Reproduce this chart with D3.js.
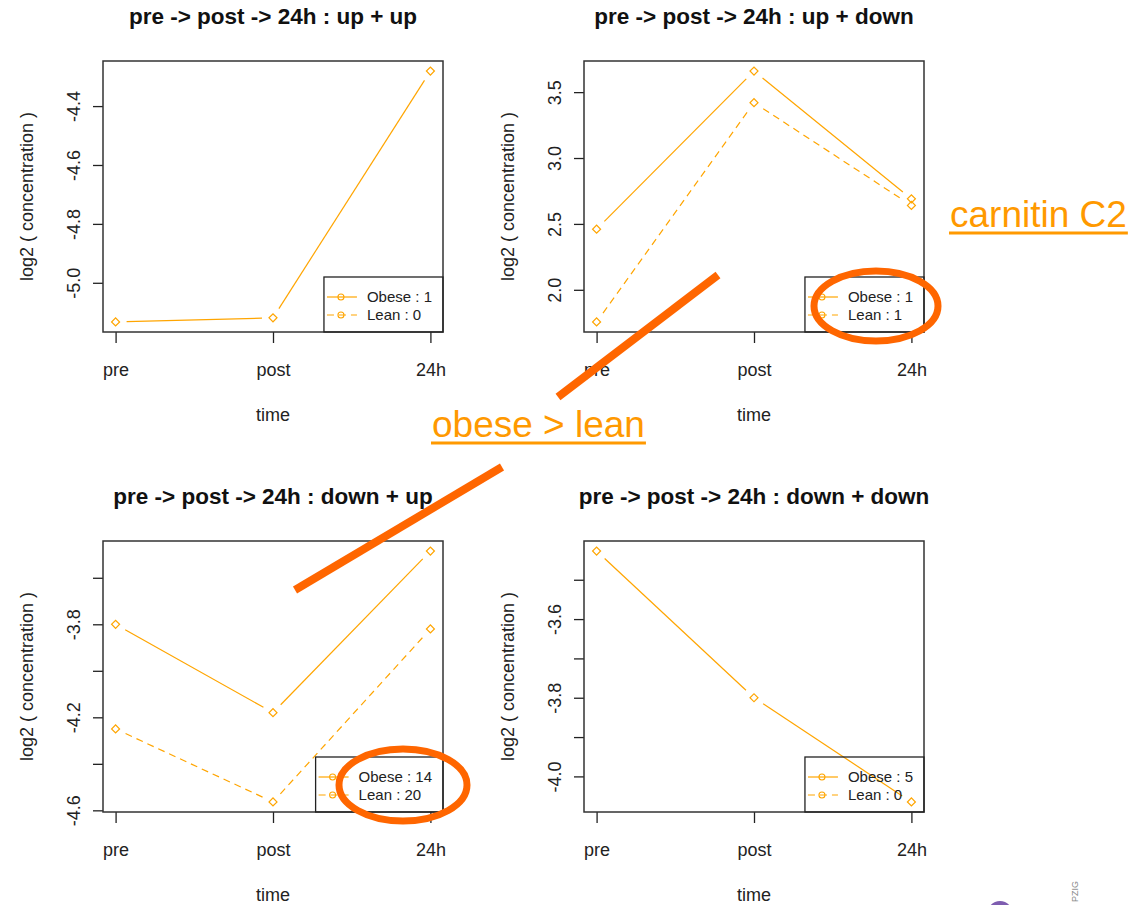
<!DOCTYPE html>
<html>
<head>
<meta charset="utf-8">
<script src="https://cdn.jsdelivr.net/npm/d3@7"></script>
<style>
  body { margin: 0; background: #fff; }
  svg { display: block; font-family: "Liberation Sans", Arial, sans-serif; }
</style>
</head>
<body>
<svg id="chart" width="1131" height="905"></svg>
<script>
// time points on the x axis
const timepoints = ["pre", "post", "24h"];

const panelTitles = [
  "pre -> post -> 24h : up + up",
  "pre -> post -> 24h : up + down",
  "pre -> post -> 24h : down + up",
  "pre -> post -> 24h : down + down"
];

// log2 concentration, one row per panel (null = no line drawn)
const obeseValues = [
  [-5.133, -5.119, -4.281],
  [2.46, 3.66, 2.69],
  [-3.80, -4.18, -3.485],
  [-3.427, -3.80, -4.065]
];
const leanValues = [
  null,
  [1.756, 3.42, 2.64],
  [-4.25, -4.564, -3.82],
  null
];

const obeseCounts = [1, 1, 14, 5];
const leanCounts = [0, 1, 20, 0];

const yTicks = [
  [-5.0, -4.8, -4.6, -4.4],
  [2.0, 2.5, 3.0, 3.5],
  [-4.6, -4.4, -4.2, -4.0, -3.8, -3.6],
  [-4.0, -3.9, -3.8, -3.7, -3.6, -3.5]
];
const yTickLabels = [
  ["-5.0", "-4.8", "-4.6", "-4.4"],
  ["2.0", "2.5", "3.0", "3.5"],
  ["-4.6", "", "-4.2", "", "-3.8", ""],
  ["-4.0", "", "-3.8", "", "-3.6", ""]
];

// slide annotations drawn over the plots
const calloutTexts = ["carnitin C2", "obese > lean"];
const calloutAnchors = [[950, 227], [432, 437]];
const strokeSegments = [[558, 397, 718, 275], [295, 590, 502, 467]];
const circledLegends = [[876, 306, 62, 35], [403, 785, 64, 36]];

const svg = d3.select("#chart");
const W = 340, H = 271;
const colX = [103, 584], rowY = [61, 541];
const orange = "#FFA500";
const gap = 11;

panelTitles.forEach((title, i) => {
  const g = svg.append("g")
    .attr("transform", `translate(${colX[i % 2]},${rowY[Math.floor(i / 2)]})`);

  const series = [
    { values: obeseValues[i], dash: null },
    { values: leanValues[i], dash: "7,5" }
  ].filter(s => s.values);

  const [lo, hi] = d3.extent(series.flatMap(s => s.values));
  const pad = (hi - lo) * 0.04;
  const y = d3.scaleLinear().domain([lo - pad, hi + pad]).range([H, 0]);
  const x = d3.scalePoint().domain(timepoints).range([0, W]).padding(0.08);

  // y axis
  const ya = g.append("g").call(
    d3.axisLeft(y).tickValues(yTicks[i]).tickSize(10)
      .tickFormat((d, k) => yTickLabels[i][k])
  );
  ya.select(".domain").remove();
  ya.selectAll(".tick line").attr("stroke", "#222").attr("stroke-width", 1.3);
  ya.selectAll(".tick text")
    .attr("x", null).attr("dy", null)
    .attr("text-anchor", "middle")
    .attr("transform", "translate(-23,0) rotate(-90)")
    .attr("font-size", 18).attr("fill", "#222");

  // x axis
  const xa = g.append("g").attr("transform", `translate(0,${H})`)
    .call(d3.axisBottom(x).tickSize(11));
  xa.select(".domain").remove();
  xa.selectAll(".tick line").attr("stroke", "#222").attr("stroke-width", 1.3);
  xa.selectAll(".tick text")
    .attr("y", 44).attr("dy", null)
    .attr("font-size", 18).attr("fill", "#222");

  g.append("rect").attr("width", W).attr("height", H)
    .attr("fill", "none").attr("stroke", "#333").attr("stroke-width", 1.5);

  // lines with gaps around the points (type = "b")
  series.forEach(s => {
    const pts = s.values.map((v, k) => [x(timepoints[k]), y(v)]);
    d3.pairs(pts).forEach(([a, b]) => {
      const d = Math.hypot(b[0] - a[0], b[1] - a[1]);
      if (d <= 2 * gap) return;
      const ux = (b[0] - a[0]) / d, uy = (b[1] - a[1]) / d;
      g.append("line")
        .attr("x1", a[0] + ux * gap).attr("y1", a[1] + uy * gap)
        .attr("x2", b[0] - ux * gap).attr("y2", b[1] - uy * gap)
        .attr("stroke", orange).attr("stroke-width", 1.2)
        .attr("stroke-dasharray", s.dash);
    });
    g.selectAll(null).data(pts).join("path")
      .attr("d", d3.symbol(d3.symbolSquare, 32))
      .attr("transform", p => `translate(${p[0]},${p[1]}) rotate(45)`)
      .attr("fill", "none").attr("stroke", orange).attr("stroke-width", 1.2);
  });

  // titles
  g.append("text").attr("x", W / 2).attr("y", -37)
    .attr("text-anchor", "middle").attr("font-size", 22.5).attr("font-weight", "bold")
    .attr("fill", "#111").text(title);
  g.append("text").attr("x", W / 2).attr("y", H + 89)
    .attr("text-anchor", "middle").attr("font-size", 18).attr("fill", "#222").text("time");
  g.append("text").attr("transform", `translate(-70,${H / 2}) rotate(-90)`)
    .attr("text-anchor", "middle").attr("font-size", 18).attr("fill", "#222")
    .text("log2 ( concentration )");

  // legend, bottom right, no fill
  const leg = g.append("g");
  const labels = [`Obese : ${obeseCounts[i]}`, `Lean : ${leanCounts[i]}`];
  const texts = leg.selectAll("text").data(labels).join("text")
    .attr("font-size", 15).attr("fill", "#222").text(d => d);
  const tw = d3.max(texts.nodes(), n => n.getComputedTextLength());
  const bw = tw + 54, bh = 55, bx = W - bw, by = H - bh;
  leg.append("rect").attr("x", bx).attr("y", by).attr("width", bw).attr("height", bh)
    .attr("fill", "none").attr("stroke", "#222").attr("stroke-width", 1.3);
  texts.attr("x", bx + 43).attr("y", (d, j) => by + 25 + j * 18);
  [null, "7,5"].forEach((dash, j) => {
    const ly = by + 20 + j * 18;
    leg.append("line").attr("x1", bx + 3).attr("x2", bx + 33).attr("y1", ly).attr("y2", ly)
      .attr("stroke", orange).attr("stroke-width", 1.2).attr("stroke-dasharray", dash);
    leg.append("circle").attr("cx", bx + 17).attr("cy", ly).attr("r", 3)
      .attr("fill", "none").attr("stroke", orange).attr("stroke-width", 1.1);
  });
});

// annotations
const red = "#FF6600";
strokeSegments.forEach(([x1, y1, x2, y2]) => {
  svg.append("line").attr("x1", x1).attr("y1", y1).attr("x2", x2).attr("y2", y2)
    .attr("stroke", red).attr("stroke-width", 8);
});
circledLegends.forEach(([cx, cy, rx, ry]) => {
  svg.append("ellipse").attr("cx", cx).attr("cy", cy).attr("rx", rx).attr("ry", ry)
    .attr("fill", "none").attr("stroke", red).attr("stroke-width", 7);
});
calloutTexts.forEach((t, i) => {
  const [ax, ay] = calloutAnchors[i];
  const txt = svg.append("text").attr("x", ax).attr("y", ay)
    .attr("font-size", 37).attr("fill", "#FF9900").text(t);
  const len = txt.node().getComputedTextLength();
  svg.append("line").attr("x1", ax - 1).attr("x2", ax + len + 1)
    .attr("y1", ay + 6).attr("y2", ay + 6)
    .attr("stroke", "#FF9900").attr("stroke-width", 3);
});

// cropped logo in the corner
svg.append("ellipse").attr("cx", 1000).attr("cy", 917).attr("rx", 14).attr("ry", 16)
  .attr("fill", "#7E5DB0");
svg.append("text").attr("transform", "translate(1078,902) rotate(-90)")
  .attr("text-anchor", "start").attr("font-size", 9).attr("fill", "#888")
  .text("PZIG");
</script>
</body>
</html>
